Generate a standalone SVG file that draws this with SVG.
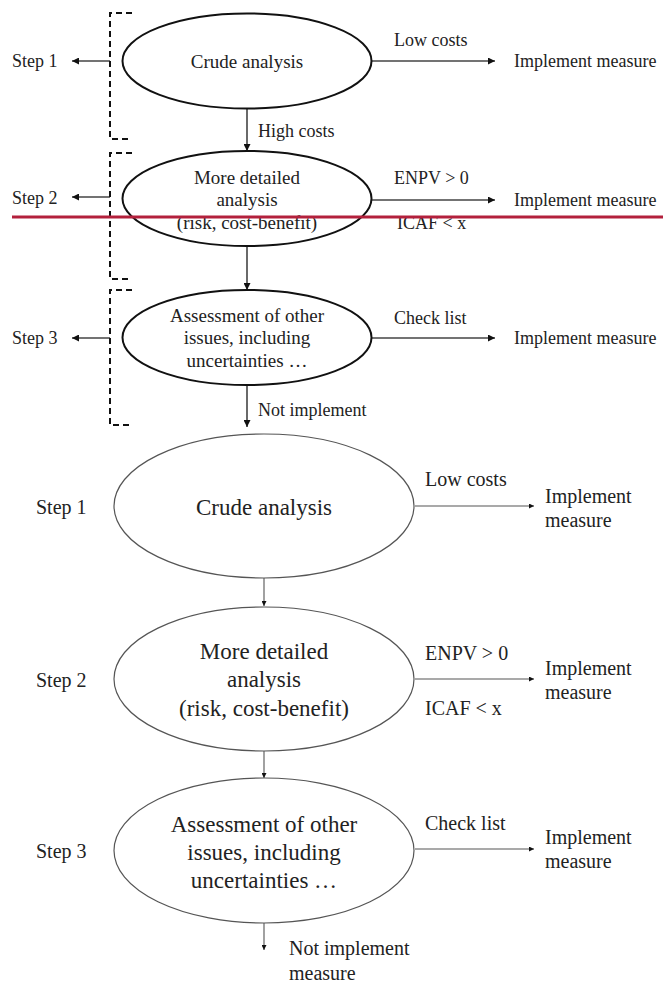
<svg xmlns="http://www.w3.org/2000/svg" width="663" height="983" viewBox="0 0 663 983">
<defs>
<marker id="ah" viewBox="0 0 10 10" refX="10" refY="5" markerWidth="9" markerHeight="7" markerUnits="userSpaceOnUse" orient="auto"><path d="M0,0 L10,5 L0,10 z" fill="#111"/></marker>
<marker id="ahs" viewBox="0 0 10 10" refX="10" refY="5" markerWidth="6" markerHeight="5" markerUnits="userSpaceOnUse" orient="auto"><path d="M0,0 L10,5 L0,10 z" fill="#111"/></marker>
</defs>
<style>
text{fill:#222}
.t1{font-size:18px}
.t1e{font-size:19px;text-anchor:middle}
.t2{font-size:20px}
.t2e{font-size:23px;text-anchor:middle}
.e1{fill:none;stroke:#111;stroke-width:2}
.e2{fill:none;stroke:#555;stroke-width:1.2}
.a1{fill:none;stroke:#444;stroke-width:1.6;marker-end:url(#ah)}
.a2{fill:none;stroke:#555;stroke-width:1.1;marker-end:url(#ahs)}
.br{fill:none;stroke:#111;stroke-width:2;stroke-dasharray:6 4}
</style>
<rect width="663" height="983" fill="#fff"/>

<g id="connectors">
<path class="a1" d="M247,108.5 V151"/>
<path class="a1" d="M247,246 V290"/>
<path class="a1" d="M247,385 V427"/>
<path class="a1" d="M372,61 H495"/>
<path class="a1" d="M372,200 H495"/>
<path class="a1" d="M372,338 H495"/>
<path class="a1" d="M110,61 H72"/>
<path class="a1" d="M110,197 H72"/>
<path class="a1" d="M110,338 H72"/>
<path class="a2" d="M264,578 V606"/>
<path class="a2" d="M264,751 V778"/>
<path class="a2" d="M264,923 V950"/>
<path class="a2" d="M415,506 H534"/>
<path class="a2" d="M415,679 H534"/>
<path class="a2" d="M415,849 H534"/>
</g>

<g id="brackets">
<path class="br" d="M132,13 H110 V139 H132"/>
<path class="br" d="M132,153 H110 V279 H132"/>
<path class="br" d="M132,290 H110 V425 H132"/>
</g>

<g font-family="Liberation Serif, Tinos, Times New Roman, DejaVu Serif, serif">
<g id="top-step1">
<text class="t1" x="12" y="67">Step 1</text>
<ellipse class="e1" cx="247" cy="61" rx="124.5" ry="47.5"/>
<text class="t1e" x="247" y="68">Crude analysis</text>
<text class="t1" x="394" y="46">Low costs</text>
<text class="t1" x="514" y="67">Implement measure</text>
<text class="t1" x="258" y="137">High costs</text>
</g>

<g id="top-step2">
<text class="t1" x="12" y="204">Step 2</text>
<ellipse class="e1" cx="247" cy="198.5" rx="124.5" ry="47.5"/>
<text class="t1e" x="247" y="184">More detailed</text>
<text class="t1e" x="247" y="206">analysis</text>
<text class="t1e" x="247" y="229">(risk, cost-benefit)</text>
<text class="t1" x="394" y="184">ENPV &gt; 0</text>
<text class="t1" x="514" y="206">Implement measure</text>
<text class="t1" x="397" y="229">ICAF &lt; x</text>
</g>

<g id="top-step3">
<text class="t1" x="12" y="344">Step 3</text>
<ellipse class="e1" cx="247" cy="337.5" rx="124.5" ry="47.5"/>
<text class="t1e" x="247" y="322">Assessment of other</text>
<text class="t1e" x="247" y="344">issues, including</text>
<text class="t1e" x="247" y="367">uncertainties …</text>
<text class="t1" x="394" y="324">Check list</text>
<text class="t1" x="514" y="344">Implement measure</text>
<text class="t1" x="258" y="416">Not implement</text>
</g>

<g id="bottom-step1">
<text class="t2" x="36" y="514">Step 1</text>
<ellipse class="e2" cx="264" cy="506" rx="150" ry="72"/>
<text class="t2e" x="264" y="515">Crude analysis</text>
<text class="t2" x="425" y="486">Low costs</text>
<text class="t2" x="545" y="503">Implement</text>
<text class="t2" x="545" y="527">measure</text>
</g>

<g id="bottom-step2">
<text class="t2" x="36" y="687">Step 2</text>
<ellipse class="e2" cx="264" cy="679" rx="150" ry="72"/>
<text class="t2e" x="264" y="659">More detailed</text>
<text class="t2e" x="264" y="687">analysis</text>
<text class="t2e" x="264" y="716">(risk, cost-benefit)</text>
<text class="t2" x="425" y="660">ENPV &gt; 0</text>
<text class="t2" x="545" y="675">Implement</text>
<text class="t2" x="545" y="699">measure</text>
<text class="t2" x="425" y="715">ICAF &lt; x</text>
</g>

<g id="bottom-step3">
<text class="t2" x="36" y="858">Step 3</text>
<ellipse class="e2" cx="264" cy="850.5" rx="150" ry="72.5"/>
<text class="t2e" x="264" y="832">Assessment of other</text>
<text class="t2e" x="264" y="860">issues, including</text>
<text class="t2e" x="264" y="888">uncertainties …</text>
<text class="t2" x="425" y="830">Check list</text>
<text class="t2" x="545" y="844">Implement</text>
<text class="t2" x="545" y="868">measure</text>
<text class="t2" x="289" y="955">Not implement</text>
<text class="t2" x="289" y="980">measure</text>
</g>
</g>

<line id="red-line" x1="12" y1="217" x2="663" y2="217" stroke="#B3203C" stroke-width="3"/>
</svg>
